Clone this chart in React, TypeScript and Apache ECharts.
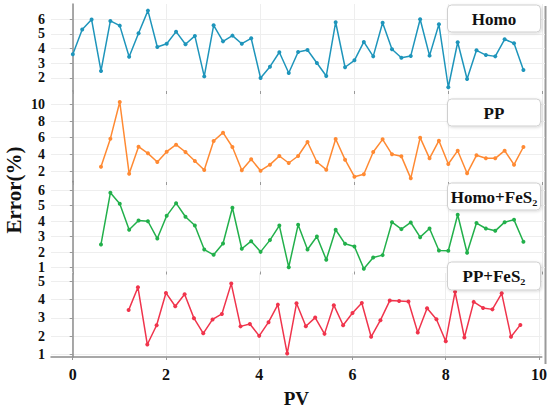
import React, { useEffect, useRef } from "react";
import * as echarts from "echarts";

const pvValues = [
  0, 0.2, 0.4, 0.6, 0.8, 1.0, 1.2, 1.4, 1.6, 1.8, 2.0, 2.2, 2.4, 2.6, 2.8, 3.0, 3.2,
  3.4, 3.6, 3.8, 4.0, 4.2, 4.4, 4.6, 4.8, 5.0, 5.2, 5.4, 5.6, 5.8, 6.0, 6.2, 6.4, 6.6,
  6.8, 7.0, 7.2, 7.4, 7.6, 7.8, 8.0, 8.2, 8.4, 8.6, 8.8, 9.0, 9.2, 9.4, 9.6,
];

// starts at PV 0
const homoValues = [
  3.61, 5.29, 5.97, 2.48, 5.88, 5.56, 3.45, 5.04, 6.58, 4.11, 4.33, 5.15, 4.29, 4.86,
  2.11, 5.58, 4.49, 4.88, 4.33, 4.7, 2.0, 2.77, 3.75, 2.34, 3.77, 3.9, 3.02, 2.14, 5.79,
  2.73, 3.2, 4.45, 3.47, 5.76, 3.95, 3.38, 3.5, 5.99, 3.52, 5.65, 1.37, 4.43, 1.93, 3.88,
  3.56, 3.47, 4.63, 4.36, 2.54,
];

// starts at PV 0.6
const ppValues = [
  2.52, 5.88, 10.28, 1.68, 4.92, 4.12, 3.08, 4.32, 5.16, 4.28, 3.2, 2.12, 5.6, 6.6, 4.88,
  2.08, 3.4, 2.04, 2.76, 3.8, 2.96, 3.8, 5.48, 3.08, 2.16, 5.84, 3.36, 1.32, 1.6, 4.28,
  5.8, 4.0, 3.76, 1.12, 6.0, 3.52, 5.64, 2.84, 4.44, 1.72, 3.88, 3.52, 3.52, 4.44, 2.76,
  4.88,
];

// starts at PV 0.6
const homoFeS2Values = [
  2.49, 5.83, 5.12, 3.44, 4.04, 3.99, 2.87, 4.34, 5.16, 4.28, 3.71, 2.16, 1.82, 2.55,
  4.86, 2.21, 2.7, 2.01, 2.77, 3.71, 1.02, 3.76, 2.16, 3.0, 1.5, 3.44, 2.53, 2.36, 0.92,
  1.65, 1.8, 3.93, 3.48, 3.91, 2.96, 3.52, 2.1, 2.08, 4.41, 1.95, 3.87, 3.52, 3.37, 3.93,
  4.08, 2.66,
];

// starts at PV 1.2
const ppFeS2Values = [
  3.43, 4.68, 1.55, 2.6, 4.37, 3.64, 4.3, 2.99, 2.16, 2.92, 3.22, 4.88, 2.54, 2.67, 2.02,
  2.77, 3.73, 1.05, 3.8, 2.55, 3.02, 2.13, 3.7, 2.6, 3.27, 3.82, 1.97, 2.88, 3.95, 3.93,
  3.9, 2.2, 3.53, 2.93, 1.73, 4.43, 1.93, 3.88, 3.55, 3.47, 4.35, 1.97, 2.62,
];

const xTicks = [0, 2, 4, 6, 8, 10];
const yTicksHomo = [2, 3, 4, 5, 6];
const yTicksPP = [2, 4, 6, 8, 10];
const yTicksHomoFeS2 = [1, 2, 3, 4, 5, 6];
const yTicksPPFeS2 = [1, 2, 3, 4, 5];

const seriesNames = ["Homo", "PP", "Homo+FeS₂", "PP+FeS₂"];
const seriesColors = ["#1e95bb", "#ff8a33", "#22b04b", "#f0344c"];
const seriesStarts = [0, 3, 3, 6];
const seriesValues = [homoValues, ppValues, homoFeS2Values, ppFeS2Values];
const yTickSets = [yTicksHomo, yTicksPP, yTicksHomoFeS2, yTicksPPFeS2];

const FONT = "'Liberation Serif', 'Times New Roman', serif";

export default function App() {
  const ref = useRef<HTMLDivElement>(null);

  useEffect(() => {
    document.body.style.margin = "0";
    if (!ref.current) return;
    const chart = echarts.init(ref.current, undefined, { renderer: "svg" });

    const panels = [
      { top: 4, bottom: 91, min: 1.116, max: 7.03 },
      { top: 91, bottom: 182, min: 0.68, max: 11.6 },
      { top: 181.5, bottom: 271.5, min: 0.74, max: 6.56 },
      { top: 273, bottom: 364, min: 0.864, max: 5.46 },
    ];
    const boxes = [
      { y: 5, h: 27 },
      { y: 99, h: 27 },
      { y: 183, h: 27 },
      { y: 262, h: 28 },
    ];

    const grids = panels.map((p) => ({
      left: 51,
      right: 5,
      top: p.top,
      height: p.bottom - p.top,
      containLabel: false,
    }));

    const xAxes = panels.map((_, i) => {
      const last = i === panels.length - 1;
      return {
        type: "value",
        gridIndex: i,
        min: -0.465,
        max: 10.06,
        name: last ? "PV" : "",
        nameLocation: "middle",
        nameGap: 32,
        nameTextStyle: { fontFamily: FONT, fontWeight: "bold", fontSize: 19, color: "#111" },
        axisLine: { show: last, lineStyle: { color: "#8c8c8c", width: 1.5 } },
        axisTick: {
          show: true,
          customValues: xTicks,
          length: 3,
          lineStyle: { color: "#999" },
        },
        axisLabel: {
          show: last,
          customValues: xTicks,
          interval: 0,
          showMinLabel: true,
          showMaxLabel: true,
          fontFamily: FONT,
          fontWeight: "bold",
          fontSize: 16,
          color: "#111",
          margin: 9,
        },
        splitLine: { show: true, lineStyle: { color: "#eeeeee", width: 1 } },
      };
    });

    const yAxes = panels.map((p, i) => ({
      type: "value",
      gridIndex: i,
      min: p.min,
      max: p.max,
      axisLine: { show: true, lineStyle: { color: "#8c8c8c", width: 1.5 } },
      axisTick: {
        show: true,
        customValues: yTickSets[i],
        length: 3,
        lineStyle: { color: "#999" },
      },
      axisLabel: {
        customValues: yTickSets[i],
        interval: 0,
        showMinLabel: true,
        showMaxLabel: true,
        hideOverlap: false,
        fontFamily: FONT,
        fontWeight: "bold",
        fontSize: 14,
        lineHeight: 11,
        color: "#111",
        margin: 6,
      },
      splitLine: { show: true, lineStyle: { color: "#eeeeee", width: 1 } },
    }));

    const series = seriesValues.map((vals, i) => ({
      type: "line",
      name: seriesNames[i],
      xAxisIndex: i,
      yAxisIndex: i,
      data: vals.map((v, k) => [pvValues[seriesStarts[i] + k], v]),
      symbol: "circle",
      symbolSize: 4,
      showSymbol: true,
      lineStyle: { color: seriesColors[i], width: 1.5 },
      itemStyle: { color: seriesColors[i] },
    }));

    const graphics: any[] = [
      {
        type: "line",
        shape: { x1: 545.5, y1: 6, x2: 545.5, y2: 364 },
        style: { stroke: "#9a9a9a", lineWidth: 2 },
        silent: true,
      },
      {
        type: "text",
        x: 14,
        y: 190,
        rotation: Math.PI / 2,
        style: {
          text: "Error(%)",
          fontFamily: FONT,
          fontWeight: "bold",
          fontSize: 21,
          fill: "#111",
          align: "center",
          verticalAlign: "middle",
        },
      },
    ];
    boxes.forEach((b, i) => {
      graphics.push({
        type: "rect",
        shape: { x: 447.5, y: b.y, width: 93, height: b.h, r: 4 },
        style: {
          fill: "#ffffff",
          stroke: "#cfcfcf",
          lineWidth: 1,
          shadowBlur: 3,
          shadowColor: "rgba(0,0,0,0.15)",
          shadowOffsetX: 1,
          shadowOffsetY: 1,
        },
        z: 10,
      });
      graphics.push({
        type: "text",
        x: 494,
        y: b.y + b.h / 2 + 0.5,
        style: {
          text: seriesNames[i],
          fontFamily: FONT,
          fontWeight: "bold",
          fontSize: 17,
          fill: "#111",
          align: "center",
          verticalAlign: "middle",
        },
        z: 11,
      });
    });

    chart.setOption({
      animation: false,
      backgroundColor: "#ffffff",
      grid: grids,
      xAxis: xAxes,
      yAxis: yAxes,
      series,
      graphic: graphics,
    });

    return () => chart.dispose();
  }, []);

  return <div ref={ref} style={{ width: 550, height: 409 }} />;
}
